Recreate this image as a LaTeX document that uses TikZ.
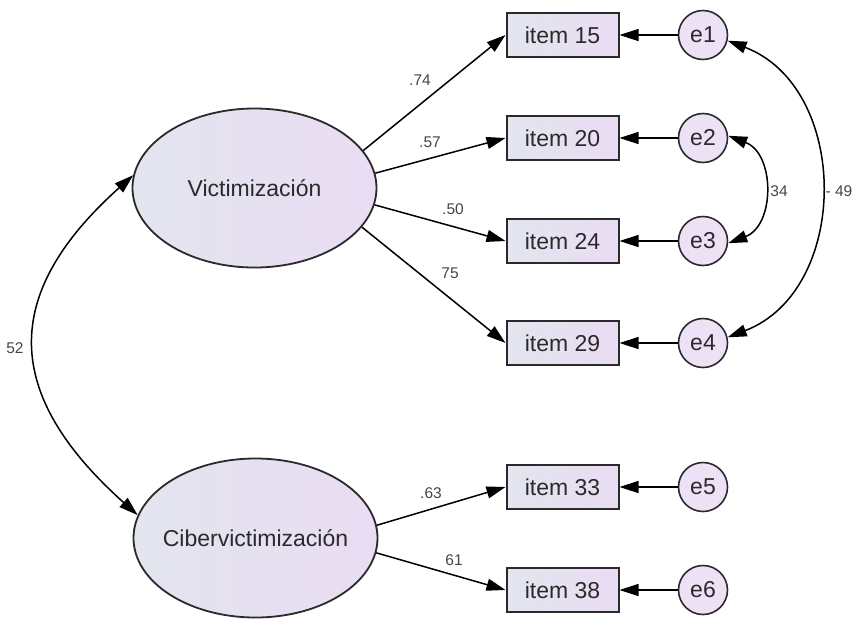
\documentclass[tikz,border=0pt]{standalone}
\usepackage{fontspec}
\setmainfont{Liberation Sans}
\usetikzlibrary{shapes.geometric,arrows.meta}
\definecolor{fillL}{HTML}{E3E5EF}
\definecolor{fillR}{HTML}{EADCF3}
\definecolor{txt}{HTML}{2A2A2A}
\definecolor{labc}{HTML}{444444}
\definecolor{edge}{HTML}{2A2A2A}
\tikzset{
  latent/.style={ellipse, draw=edge, line width=1.8pt, minimum width=244pt, minimum height=159pt,
    left color=fillL, right color=fillR, text=txt, font=\fontsize{23}{27}\selectfont, inner sep=0pt},
  obs/.style={rectangle, draw=edge, line width=2pt, minimum width=112pt, minimum height=44pt,
    left color=fillL, right color=fillR, text=txt, font=\fontsize{23}{27}\selectfont, inner sep=0pt},
  err/.style={circle, draw=edge, line width=1.6pt, minimum size=49pt,
    fill=fillR!85!white, text=txt, font=\fontsize{23}{27}\selectfont, inner sep=0pt},
  arr/.style={-{Triangle[length=19pt,width=12pt]}, line width=1.5pt, draw=black},
  cov/.style={{Triangle[length=19pt,width=12pt]}-{Triangle[length=19pt,width=12pt]}, line width=1.5pt, draw=black},
  lab/.style={text=labc, font=\fontsize{15.5}{18}\selectfont, inner sep=0pt}
}
\begin{document}
\begin{tikzpicture}[x=1pt,y=-1pt]
\useasboundingbox (0,0) rectangle (854,619);
% latent variables
\node[latent] (V) at (254.5,188) {\makebox[0pt]{Victimización}};
\node[latent] (C) at (255.5,538) {\makebox[0pt]{Cibervictimización}};
% observed items
\node[obs] (i15) at (562.5,35) {item 15};
\node[obs] (i20) at (562.5,138) {item 20};
\node[obs] (i24) at (562.5,241) {item 24};
\node[obs] (i29) at (562.5,343) {item 29};
\node[obs] (i33) at (562.5,487) {item 33};
\node[obs] (i38) at (562.5,590) {item 38};
% errors
\node[err] (e1) at (703,35) {e1};
\node[err] (e2) at (703,138) {e2};
\node[err] (e3) at (703,241) {e3};
\node[err] (e4) at (703,343) {e4};
\node[err] (e5) at (703,487) {e5};
\node[err] (e6) at (703,590) {e6};
% loadings
\draw[arr] (V.19) -- (i15.west);
\draw[arr] (V.7) -- (i20.west);
\draw[arr] (V.-8) -- (i24.west);
\draw[arr] (V.-20) -- (i29.west);
\draw[arr] (C.6) -- (i33.west);
\draw[arr] (C.-7) -- (i38.west);
% error paths
\foreach \e/\i in {e1/i15,e2/i20,e3/i24,e4/i29,e5/i33,e6/i38}
  \draw[arr] (\e.west) -- (\i.east);
% covariances
\draw[cov] (V.174) .. controls +(-134,120) and +(-134,-120) .. (C.169);
\draw[cov] (e1.-13) .. controls +(123,47) and +(123,-47) .. (e4.13);
\draw[cov] (e2.5) .. controls +(47,18) and +(47,-18) .. (e3.-5);
% labels
\node[lab] (l74) at (420,80) {.74};
\node[lab] (l57) at (430,142) {.57};
\node[lab] (l50) at (453,209) {.50};
\node[lab] (l75) at (450,273) {75};
\node[lab] (l63) at (431,493) {.63};
\node[lab] (l61) at (454,560) {61};
\node[lab] (l34) at (779,191) {34};
\node[lab] (l49) at (839,191) {- 49};
\node[lab] (l52) at (15,348) {52};
\end{tikzpicture}
\end{document}
